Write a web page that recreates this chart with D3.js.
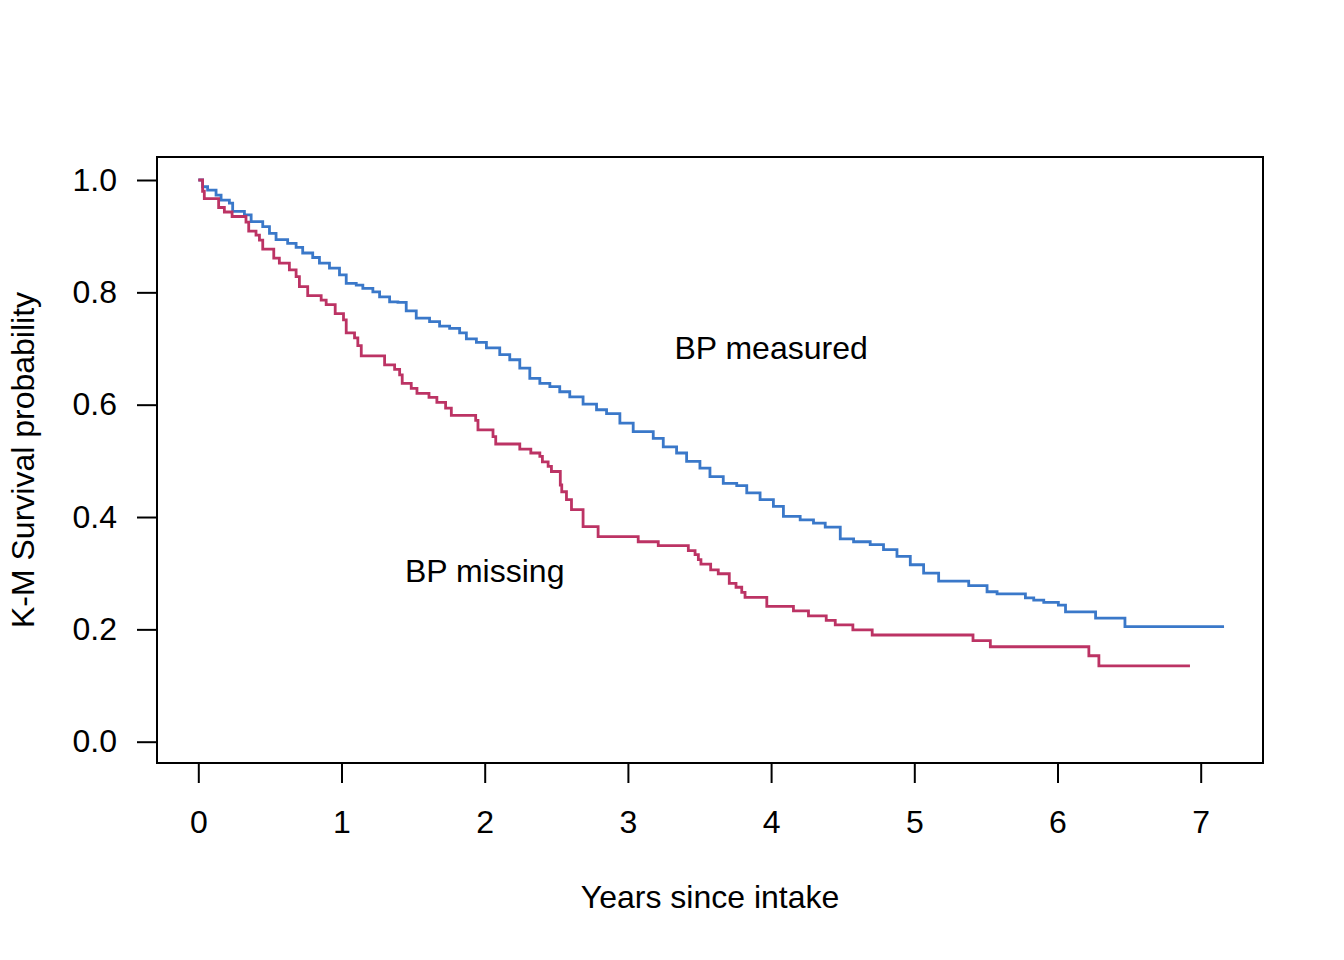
<!DOCTYPE html>
<html>
<head>
<meta charset="utf-8">
<script src="https://cdn.jsdelivr.net/npm/d3@7"></script>
<style>
  body { margin: 0; background: #fff; }
  svg text { font-family: "Liberation Sans", Arial, Helvetica, sans-serif; fill: #000; }
</style>
</head>
<body>
<div id="main"></div>
<script>
// BP measured group (K-M estimate)
var measuredTime = [0, 0.03, 0.065, 0.124, 0.159, 0.217, 0.240, 0.322, 0.369, 0.450, 0.497, 0.543, 0.624, 0.683, 0.729, 0.799, 0.846, 0.916, 0.986, 1.033, 1.103, 1.149, 1.219, 1.266, 1.336, 1.394, 1.452, 1.522, 1.615, 1.685, 1.755, 1.825, 1.872, 1.942, 2.012, 2.105, 2.175, 2.245, 2.315, 2.385, 2.455, 2.524, 2.594, 2.687, 2.781, 2.851, 2.944, 3.037, 3.177, 3.247, 3.340, 3.410, 3.503, 3.573, 3.666, 3.760, 3.830, 3.923, 4.016, 4.086, 4.203, 4.296, 4.378, 4.483, 4.576, 4.692, 4.785, 4.879, 4.972, 5.065, 5.170, 5.380, 5.508, 5.578, 5.776, 5.834, 5.904, 6.006, 6.056, 6.266, 6.471];
var measuredSurv = [1.0, 0.988, 0.982, 0.973, 0.964, 0.959, 0.944, 0.938, 0.926, 0.917, 0.905, 0.894, 0.887, 0.880, 0.870, 0.862, 0.852, 0.843, 0.831, 0.816, 0.813, 0.807, 0.801, 0.792, 0.783, 0.782, 0.767, 0.754, 0.748, 0.740, 0.736, 0.728, 0.717, 0.711, 0.701, 0.689, 0.680, 0.665, 0.647, 0.638, 0.632, 0.623, 0.614, 0.601, 0.591, 0.584, 0.567, 0.552, 0.540, 0.525, 0.514, 0.499, 0.487, 0.472, 0.460, 0.456, 0.443, 0.431, 0.419, 0.401, 0.395, 0.389, 0.382, 0.361, 0.356, 0.351, 0.342, 0.330, 0.315, 0.300, 0.286, 0.278, 0.267, 0.263, 0.256, 0.252, 0.248, 0.243, 0.231, 0.220, 0.205];
var measuredEnd = 7.163;

// BP missing group
var missingTime = [0, 0.03, 0.042, 0.142, 0.182, 0.236, 0.333, 0.352, 0.403, 0.427, 0.450, 0.527, 0.566, 0.636, 0.683, 0.706, 0.764, 0.858, 0.893, 0.956, 1.014, 1.033, 1.091, 1.114, 1.138, 1.301, 1.371, 1.406, 1.424, 1.487, 1.527, 1.611, 1.666, 1.727, 1.767, 1.937, 1.953, 2.058, 2.077, 2.245, 2.322, 2.385, 2.403, 2.443, 2.466, 2.528, 2.538, 2.571, 2.606, 2.687, 2.792, 3.072, 3.212, 3.422, 3.469, 3.492, 3.510, 3.578, 3.631, 3.708, 3.755, 3.795, 3.818, 3.970, 4.156, 4.261, 4.385, 4.448, 4.571, 4.706, 5.410, 5.531, 6.219, 6.289];
var missingSurv = [1.0, 0.98, 0.967, 0.951, 0.943, 0.935, 0.925, 0.909, 0.902, 0.893, 0.877, 0.861, 0.852, 0.840, 0.828, 0.810, 0.794, 0.786, 0.778, 0.762, 0.751, 0.728, 0.719, 0.705, 0.687, 0.671, 0.663, 0.653, 0.638, 0.629, 0.620, 0.613, 0.604, 0.594, 0.581, 0.572, 0.555, 0.543, 0.530, 0.521, 0.514, 0.508, 0.498, 0.490, 0.481, 0.457, 0.445, 0.431, 0.413, 0.383, 0.365, 0.356, 0.349, 0.340, 0.333, 0.324, 0.316, 0.306, 0.299, 0.282, 0.275, 0.266, 0.257, 0.241, 0.233, 0.224, 0.216, 0.208, 0.199, 0.190, 0.180, 0.169, 0.153, 0.135];
var missingEnd = 6.925;

var xTicks = [0, 1, 2, 3, 4, 5, 6, 7];
var yTicks = [0, 0.2, 0.4, 0.6, 0.8, 1.0];

var ctx = {
    w: 1344,
    h: 960,
    left: 157,
    right: 1263,
    top: 157,
    bottom: 763,
    fontSize: 32,
    blue: "#3a78c9",
    red: "#bc3364"
};

var x = d3.scaleLinear().domain([0, 7]).range([198.3, 1200.7]);
var y = d3.scaleLinear().domain([0, 1]).range([741.7, 180]);

var svg = d3.select("#main").append("svg")
    .attr("width", ctx.w)
    .attr("height", ctx.h);

// turn the arrays into step data, adding the last censored time
var toSteps = function(times, surv, end) {
    var pts = times.map(function(t, i) { return [t, surv[i]]; });
    pts.push([end, surv[surv.length - 1]]);
    return pts;
};

var line = d3.line()
    .x(function(d) { return x(d[0]); })
    .y(function(d) { return y(d[1]); })
    .curve(d3.curveStepAfter);

svg.append("path")
    .datum(toSteps(measuredTime, measuredSurv, measuredEnd))
    .attr("d", line)
    .attr("fill", "none")
    .attr("stroke", ctx.blue)
    .attr("stroke-width", 2.8);

svg.append("path")
    .datum(toSteps(missingTime, missingSurv, missingEnd))
    .attr("d", line)
    .attr("fill", "none")
    .attr("stroke", ctx.red)
    .attr("stroke-width", 2.8);

// axes, R style
var xAxis = svg.append("g")
    .attr("transform", "translate(0," + ctx.bottom + ")")
    .call(d3.axisBottom(x).tickValues(xTicks).tickSize(20).tickPadding(27).tickFormat(d3.format("d")));

var yAxis = svg.append("g")
    .attr("transform", "translate(" + ctx.left + ",0)")
    .call(d3.axisLeft(y).tickValues(yTicks).tickSize(20).tickPadding(20).tickFormat(d3.format(".1f")));

[xAxis, yAxis].forEach(function(g) {
    g.select(".domain").remove();
    g.selectAll(".tick line").attr("stroke", "#000").attr("stroke-width", 2);
    g.selectAll(".tick text").style("font-size", ctx.fontSize + "px").attr("fill", "#000");
});

// plot box
svg.append("rect")
    .attr("x", ctx.left)
    .attr("y", ctx.top)
    .attr("width", ctx.right - ctx.left)
    .attr("height", ctx.bottom - ctx.top)
    .attr("fill", "none")
    .attr("stroke", "#000")
    .attr("stroke-width", 2);

// axis titles
svg.append("text")
    .attr("x", (ctx.left + ctx.right) / 2)
    .attr("y", 908)
    .attr("text-anchor", "middle")
    .style("font-size", ctx.fontSize + "px")
    .text("Years since intake");

svg.append("text")
    .attr("transform", "translate(34," + ((ctx.top + ctx.bottom) / 2) + ") rotate(-90)")
    .attr("text-anchor", "middle")
    .style("font-size", ctx.fontSize + "px")
    .text("K-M Survival probability");

// curve labels
svg.append("text")
    .attr("x", x(4))
    .attr("y", y(0.7))
    .attr("dy", 10.5)
    .attr("text-anchor", "middle")
    .style("font-size", ctx.fontSize + "px")
    .text("BP measured");

svg.append("text")
    .attr("x", x(2))
    .attr("y", y(0.3))
    .attr("dy", 8.5)
    .attr("text-anchor", "middle")
    .style("font-size", ctx.fontSize + "px")
    .text("BP missing");
</script>
</body>
</html>
